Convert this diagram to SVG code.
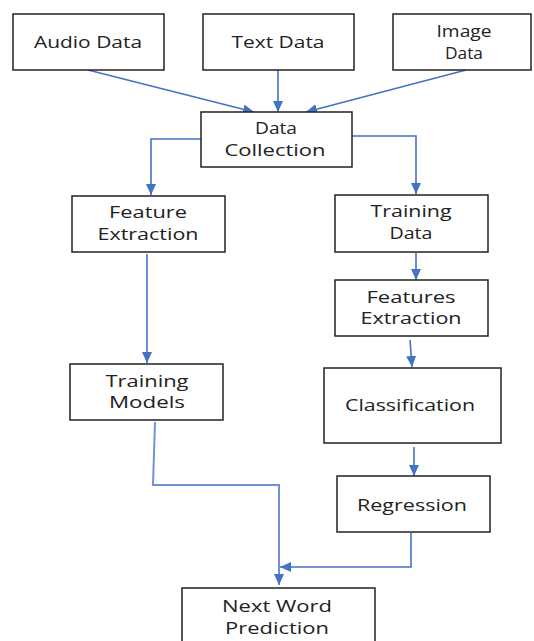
<svg xmlns="http://www.w3.org/2000/svg" width="534" height="641" viewBox="0 0 534 641">
<style>
.box{fill:#fff;stroke:#222;stroke-width:1.5}
.t{font-family:"Open Sans","Liberation Sans",sans-serif;font-size:16.5px;fill:#222;text-anchor:middle}
.c{fill:none;stroke:#4472C4;stroke-width:1.6}
.c2{fill:none;stroke:#6f93d6;stroke-width:2}
</style>
<defs>
<marker id="ah" markerUnits="userSpaceOnUse" markerWidth="12" markerHeight="12" viewBox="0 0 12 12" refX="11" refY="6" orient="auto">
<path d="M0,1 L11,6 L0,11 z" fill="#4472C4"/>
</marker>
</defs>
<rect width="534" height="641" fill="#fff"/>
<g id="connectors">
<line class="c" x1="88" y1="70" x2="254" y2="112" marker-end="url(#ah)"/>
<line class="c" x1="278" y1="70" x2="278" y2="112" marker-end="url(#ah)"/>
<line class="c" x1="466" y1="70" x2="306" y2="112" marker-end="url(#ah)"/>
<polyline class="c" points="201,139 151,139 151,195" marker-end="url(#ah)"/>
<polyline class="c" points="352,136 416,136 416,194" marker-end="url(#ah)"/>
<line class="c" x1="147" y1="254" x2="147" y2="363" marker-end="url(#ah)"/>
<line class="c" x1="416" y1="253" x2="416" y2="280" marker-end="url(#ah)"/>
<line class="c" x1="410" y1="340" x2="412" y2="367" marker-end="url(#ah)"/>
<line class="c" x1="414" y1="447" x2="414" y2="476" marker-end="url(#ah)"/>
<polyline class="c2" points="155,422 153,485 279,485 279,585" marker-end="url(#ah)"/>
<polyline class="c" points="411,533 411,567 280,567" marker-end="url(#ah)"/>
</g>
<g id="audio-data">
<rect class="box" x="13" y="14" width="151" height="56"/>
<text class="t" x="88" y="48" textLength="108" lengthAdjust="spacingAndGlyphs">Audio Data</text>
</g>
<g id="text-data">
<rect class="box" x="203" y="14" width="151" height="56"/>
<text class="t" x="278" y="48" textLength="93" lengthAdjust="spacingAndGlyphs">Text Data</text>
</g>
<g id="image-data">
<rect class="box" x="393" y="14" width="138" height="56"/>
<text class="t" x="464" y="37" textLength="55" lengthAdjust="spacingAndGlyphs">Image</text>
<text class="t" x="464" y="59" textLength="38" lengthAdjust="spacingAndGlyphs">Data</text>
</g>
<g id="data-collection">
<rect class="box" x="201" y="112" width="151" height="55"/>
<text class="t" x="276" y="134" textLength="42" lengthAdjust="spacingAndGlyphs">Data</text>
<text class="t" x="275" y="156" textLength="101" lengthAdjust="spacingAndGlyphs">Collection</text>
</g>
<g id="feature-extraction">
<rect class="box" x="72" y="196" width="153" height="56"/>
<text class="t" x="148" y="218" textLength="78" lengthAdjust="spacingAndGlyphs">Feature</text>
<text class="t" x="148" y="240" textLength="101" lengthAdjust="spacingAndGlyphs">Extraction</text>
</g>
<g id="training-data">
<rect class="box" x="335" y="195" width="153" height="57"/>
<text class="t" x="411" y="217" textLength="81" lengthAdjust="spacingAndGlyphs">Training</text>
<text class="t" x="411" y="239" textLength="43" lengthAdjust="spacingAndGlyphs">Data</text>
</g>
<g id="features-extraction">
<rect class="box" x="335" y="280" width="153" height="56"/>
<text class="t" x="411" y="303" textLength="89" lengthAdjust="spacingAndGlyphs">Features</text>
<text class="t" x="411" y="324" textLength="101" lengthAdjust="spacingAndGlyphs">Extraction</text>
</g>
<g id="training-models">
<rect class="box" x="70" y="364" width="153" height="56"/>
<text class="t" x="147" y="387" textLength="83" lengthAdjust="spacingAndGlyphs">Training</text>
<text class="t" x="147" y="408" textLength="76" lengthAdjust="spacingAndGlyphs">Models</text>
</g>
<g id="classification">
<rect class="box" x="324" y="368" width="177" height="75"/>
<text class="t" x="410" y="411" textLength="130" lengthAdjust="spacingAndGlyphs">Classification</text>
</g>
<g id="regression">
<rect class="box" x="337" y="476" width="153" height="56"/>
<text class="t" x="412" y="511" textLength="110" lengthAdjust="spacingAndGlyphs">Regression</text>
</g>
<g id="next-word-prediction">
<rect class="box" x="182" y="588" width="193" height="70"/>
<text class="t" x="277" y="612" textLength="110" lengthAdjust="spacingAndGlyphs">Next Word</text>
<text class="t" x="277" y="634" textLength="104" lengthAdjust="spacingAndGlyphs">Prediction</text>
</g>
</svg>
